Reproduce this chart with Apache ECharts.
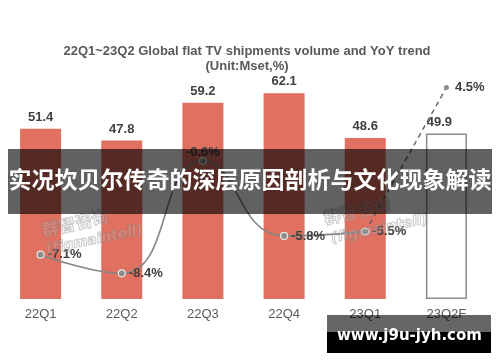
<!DOCTYPE html>
<html><head><meta charset="utf-8">
<script src="https://cdn.jsdelivr.net/npm/echarts@6/dist/echarts.min.js"></script>
<style>html,body{margin:0;padding:0;background:#fff}#c{width:500px;height:362px}</style>
</head><body><div id="c"></div>
<script>
var categories = ['22Q1','22Q2','22Q3','22Q4','23Q1','23Q2F'];
var shipments = [51.4, 47.8, 59.2, 62.1, 48.6, 49.9];
var yoy = [-7.1, -8.4, -0.6, -5.8, -5.5, 4.5];
var titleText = '22Q1~23Q2 Global flat TV shipments volume and YoY trend\n(Unit:Mset,%)';
var bannerText = '实况坎贝尔传奇的深层原因剖析与文化现象解读';
var siteText = 'www.j9u-jyh.com';
var markCn = '群智咨询';
var markEn = '(figmaintell)';

var FONT = '"Liberation Sans", Arial, sans-serif';
var barData = shipments.map(function(v, i){
  if (i === categories.length - 1) {
    return {value: v, itemStyle: {color: '#fff', borderColor: '#8c8c8c', borderWidth: 1.5},
            label: {offset: [-7, 0]}};
  }
  return v;
});
var solidData = yoy.map(function(v, i){
  if (i === yoy.length - 1) return null;
  var d = {value: v};
  if (i === 2) d.label = {position: 'top', distance: -2};
  return d;
});
var dashData = yoy.map(function(v, i){
  if (i < yoy.length - 2) return null;
  if (i === yoy.length - 1) return {value: v, label: {show: true}};
  return {value: v, symbolSize: 0, label: {show: false}};
});
var pctFmt = function(p){ return p.value + '%'; };
var wmStyle = function(txt, font){
  return {text: txt, font: font, fill: 'rgba(255,255,255,0.15)', stroke: 'rgba(120,120,120,0.45)', lineWidth: 1};
};

var chart = echarts.init(document.getElementById('c'));
chart.setOption({
  animation: false,
  title: {text: titleText, left: 242, top: 39, textAlign: 'center',
    textStyle: {fontFamily: FONT, fontSize: 13, fontWeight: 'bold', color: '#595959', lineHeight: 15}},
  grid: {left: -3, right: 13, top: 67, bottom: 63, containLabel: false},
  xAxis: {type: 'category', data: categories,
    axisLine: {show: false}, axisTick: {show: false},
    axisLabel: {margin: 9, fontFamily: FONT, fontSize: 13, color: '#595959'}},
  yAxis: [
    {type: 'value', min: 0, max: 70, show: false, splitLine: {show: false}},
    {type: 'value', min: -10.18, max: 5.93, show: false, splitLine: {show: false}}
  ],
  series: [
    {type: 'bar', data: barData, barWidth: 41,
      itemStyle: {color: '#E07060'},
      label: {show: true, position: 'top', distance: 5, fontFamily: FONT, fontSize: 13,
        fontWeight: 'bold', color: '#404040'}},
    {type: 'line', yAxisIndex: 1, data: solidData, smooth: 0.5, connectNulls: false,
      symbol: 'circle', symbolSize: 7,
      lineStyle: {color: '#858585', width: 1.6},
      itemStyle: {color: '#8c8c8c', borderColor: '#e8e8e8', borderWidth: 1.2},
      label: {show: true, position: 'right', distance: 3, formatter: pctFmt,
        fontFamily: FONT, fontSize: 13, fontWeight: 'bold', color: '#404040'}},
    {type: 'line', yAxisIndex: 1, data: dashData, connectNulls: false,
      symbol: 'circle', symbolSize: 5,
      lineStyle: {color: '#666', width: 1.5, type: [5, 4]},
      itemStyle: {color: '#8c8c8c'},
      label: {position: 'right', distance: 6, formatter: pctFmt,
        fontFamily: FONT, fontSize: 13, fontWeight: 'bold', color: '#404040'}}
  ],
  graphic: [
    {type: 'text', x: 40, y: 222, rotation: 0.22, z: 50,
      style: wmStyle(markCn, 'bold 17px "Noto Sans CJK SC", sans-serif')},
    {type: 'text', x: 45, y: 243, rotation: 0.2, z: 50,
      style: wmStyle(markEn, 'italic bold 14px "DejaVu Sans", sans-serif')},
    {type: 'text', x: 330, y: 232, rotation: 0.2, z: 50,
      style: wmStyle(markEn, 'italic bold 14px "DejaVu Sans", sans-serif')},
    {type: 'text', x: 322, y: 210, rotation: 0.22, z: 50,
      style: wmStyle(markCn, 'bold 17px "Noto Sans CJK SC", sans-serif')},
    {type: 'rect', left: 8, top: 149, z: 100, shape: {width: 484, height: 65},
      style: {fill: 'rgba(0,0,0,0.62)'}},
    {type: 'text', left: 'center', top: 168, z: 101,
      style: {text: bannerText, fill: '#fff', font: 'bold 23px "Noto Sans CJK SC", sans-serif'}},
    {type: 'rect', left: 327, top: 315, z: 100, shape: {width: 164, height: 17},
      style: {fill: 'rgba(0,0,0,0.6)'}},
    {type: 'rect', left: 327, top: 332, z: 100, shape: {width: 164, height: 21},
      style: {fill: '#000'}},
    {type: 'text', left: 337, top: 329, z: 101,
      style: {text: siteText, fill: '#fff', font: 'bold 15px "DejaVu Sans", sans-serif'}}
  ]
});
</script></body></html>
